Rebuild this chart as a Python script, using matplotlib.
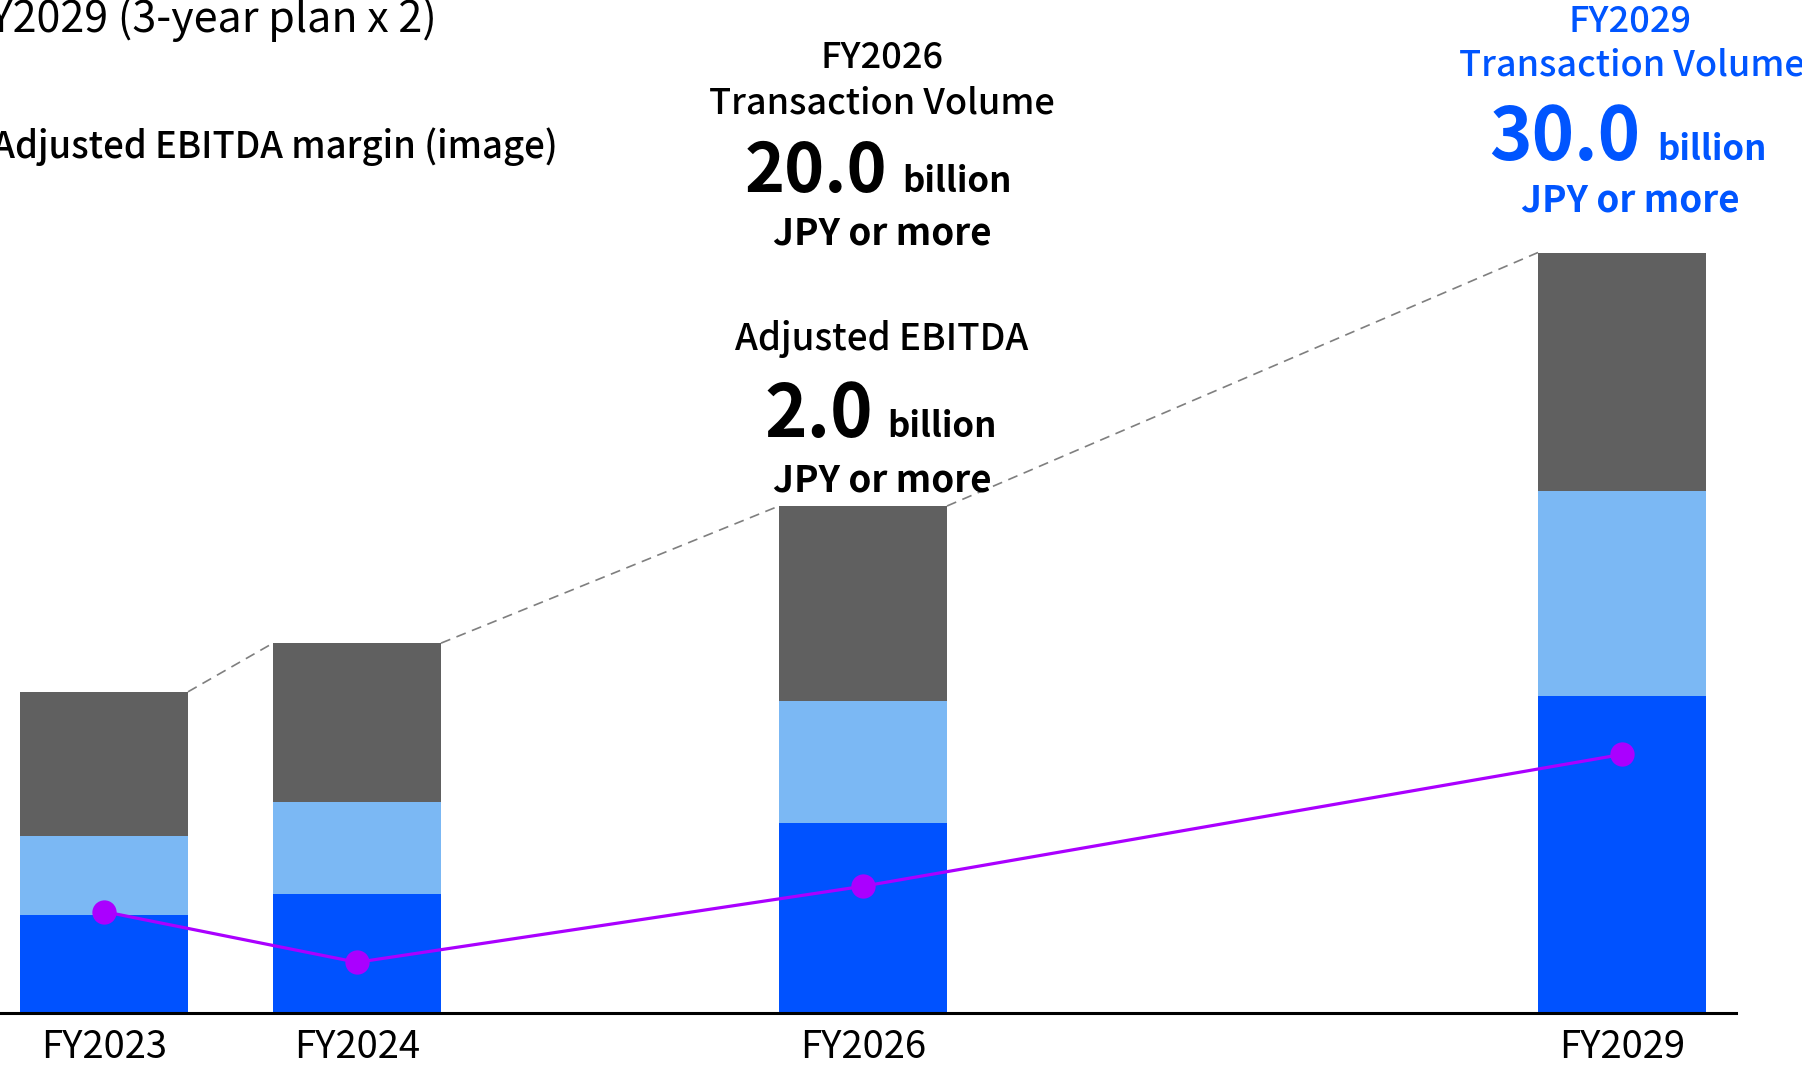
import matplotlib.pyplot as plt

plt.rcParams['font.family'] = ['Noto Sans CJK JP', 'DejaVu Sans']

# fiscal years and their position on a year axis (gaps keep the time scale)
years = ['FY2023', 'FY2024', 'FY2026', 'FY2029']
year_pos = [0, 1, 3, 6]

# transaction volume (image, billion JPY) split into three stacked parts
seg_base = [3.87, 4.69, 7.5, 12.5]
seg_mid = [3.12, 3.63, 4.8, 8.1]
seg_top = [5.68, 6.27, 7.7, 9.4]

# adjusted EBITDA margin (image, %)
margin = [4.0, 2.0, 5.0, 10.2]

BLUE = '#0052ff'
LIGHT = '#7bb8f4'
GRAY = '#606060'
PURPLE = '#aa00ff'

W, H = 1802, 1067
fig = plt.figure(figsize=(W / 100, H / 100), dpi=100)
ax = fig.add_axes([0, 1 - 1013 / H, 1736 / W, 1013 / H])

width = 0.664
bottom_mid = list(seg_base)
bottom_top = [a + b for a, b in zip(seg_base, seg_mid)]
totals = [a + b + c for a, b, c in zip(seg_base, seg_mid, seg_top)]

ax.bar(year_pos, seg_base, width, color=BLUE, zorder=2)
ax.bar(year_pos, seg_mid, width, bottom=bottom_mid, color=LIGHT, zorder=2)
ax.bar(year_pos, seg_top, width, bottom=bottom_top, color=GRAY, zorder=2)

# dashed connectors between the tops of neighbouring bars
for i in range(len(year_pos) - 1):
    ax.plot([year_pos[i] + width / 2, year_pos[i + 1] - width / 2],
            [totals[i], totals[i + 1]],
            color='#7f7f7f', lw=1.2, linestyle=(0, (6, 4)), zorder=1)

ax.plot(year_pos, margin, color=PURPLE, lw=2.3, marker='o',
        markersize=17.5, markeredgewidth=0, zorder=3)

ax.set_xlim(-104 / 253, (1736 - 104) / 253)
ax.set_ylim(0, 1013 / 25.35)
ax.set_xticks(year_pos)
ax.set_xticklabels(years, fontsize=27.5)
ax.tick_params(axis='x', length=0, pad=11)
ax.set_yticks([])
for side in ['top', 'left', 'right']:
    ax.spines[side].set_visible(False)
ax.spines['bottom'].set_linewidth(2.2)


def ftext(x, y, s, **kw):
    fig.text(x / W, 1 - y / H, s, **kw)


# headline text
ftext(437, 19, 'FY2029 (3-year plan x 2)', fontsize=31, ha='right', va='center')
ftext(558, 147, '/Adjusted EBITDA margin (image)', fontsize=26.3,
      fontweight='medium', ha='right', va='center')

# FY2026 targets
blk = dict(ha='center', va='center', fontweight='medium', color='black')
ftext(882, 57, 'FY2026', fontsize=26, **blk)
ftext(882, 104, 'Transaction Volume', fontsize=26, **blk)
ftext(887, 192, '20.0', fontsize=49, ha='right', va='baseline',
      fontweight='bold')
ftext(902, 192, 'billion', fontsize=25, ha='left', va='baseline',
      fontweight='bold')
ftext(882, 234, 'JPY or more', fontsize=26.5, ha='center', va='center',
      fontweight='bold')

ftext(882, 339, 'Adjusted EBITDA', fontsize=26.5, **blk)
ftext(873, 437, '2.0', fontsize=52, ha='right', va='baseline',
      fontweight='bold')
ftext(887, 437, 'billion', fontsize=25, ha='left', va='baseline',
      fontweight='bold')
ftext(882, 481, 'JPY or more', fontsize=26.5, ha='center', va='center',
      fontweight='bold')

# FY2029 target
tb = '#0055ff'
ftext(1630, 21, 'FY2029', fontsize=26, ha='center', va='center',
      fontweight='medium', color=tb)
ftext(1632, 66, 'Transaction Volume', fontsize=26, ha='center', va='center',
      fontweight='medium', color=tb)
ftext(1640, 160, '30.0', fontsize=52, ha='right', va='baseline',
      fontweight='bold', color=tb)
ftext(1657, 160, 'billion', fontsize=25, ha='left', va='baseline',
      fontweight='bold', color=tb)
ftext(1630, 201, 'JPY or more', fontsize=26.5, ha='center', va='center',
      fontweight='bold', color=tb)

fig.savefig('out.png', dpi=100)
